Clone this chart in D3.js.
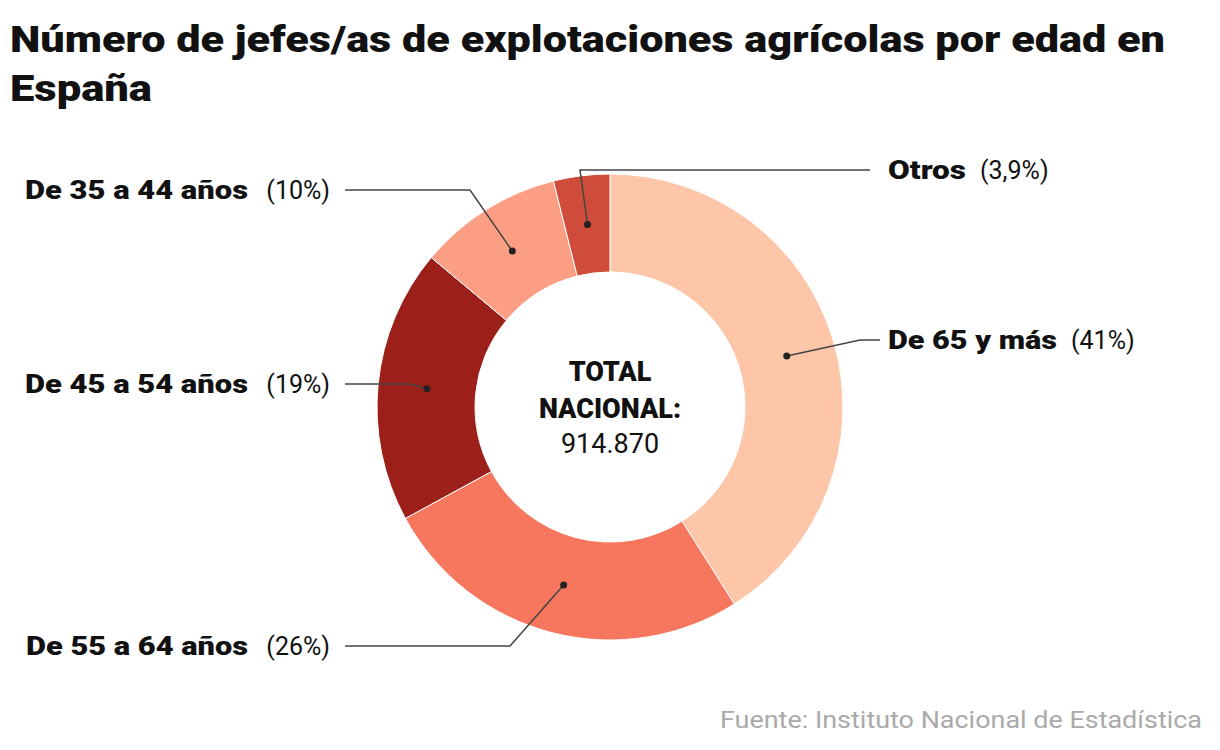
<!DOCTYPE html>
<html><head><meta charset="utf-8">
<script src="https://cdn.jsdelivr.net/npm/d3@7"></script>
<style>body{margin:0;background:#fff;font-family:Roboto,"Noto Sans",sans-serif}</style>
</head><body><svg id="c" width="1220" height="750"></svg>
<script>
const categories=["De 65 y más","De 55 a 64 años","De 45 a 54 años","De 35 a 44 años","Otros"];
const values=[41,26,19,10,3.9];
const pctLabels=["(41%)","(26%)","(19%)","(10%)","(3,9%)"];
const colors=["#fdc6a9","#f7775e","#9c1f1a","#fc9e83","#cf4c3b"];
// layout: [labelX, labelY, side, elbowX, elbowY, lineEndX, boldWidth]
const layout=[[888,340,"r",860,340,880,169],[330,646,"l",510,646,345,222],[330,384,"l",410,384,345,223],[330,190,"l",470,190,345,223],[888,170,"r",580,170,870,78]];
const svg=d3.select("#c");
svg.append("text").attr("x",10).attr("y",52).attr("font-size",37).attr("font-weight",900).attr("fill","#111").attr("textLength",1155).attr("lengthAdjust","spacingAndGlyphs").text("Número de jefes/as de explotaciones agrícolas por edad en");
svg.append("text").attr("x",10).attr("y",101).attr("font-size",37).attr("font-weight",900).attr("fill","#111").attr("textLength",142).attr("lengthAdjust","spacingAndGlyphs").text("España");
const cx=610,cy=407,R=233,r=135;
const g=svg.append("g").attr("transform",`translate(${cx},${cy})`);
const pie=d3.pie().sort(null).value(d=>d)(values);
const arc=d3.arc().innerRadius(r).outerRadius(R);
g.selectAll("path").data(pie).join("path").attr("d",arc).attr("fill",(d,i)=>colors[i]).attr("stroke","#fff").attr("stroke-width",1);
const mid=d3.arc().innerRadius(184).outerRadius(184);
pie.forEach((d,i)=>{
  const [px,py]=mid.centroid(d);const L=layout[i];
  const x=cx+px,y=cy+py;
  svg.append("polyline").attr("points",`${x},${y} ${L[3]},${L[4]} ${L[5]},${L[4]}`).attr("fill","none").attr("stroke","#444").attr("stroke-width",1.5);
  svg.append("circle").attr("cx",x).attr("cy",y).attr("r",3.5).attr("fill","#222");
  const ty=L[1]+9;
  let bx,px2;
  if(L[2]==="l"){px2=L[0];bx=L[0]-68-14-L[6];}
  else{bx=L[0];px2=L[0]+L[6]+14;}
  svg.append("text").attr("x",bx).attr("y",ty).attr("font-size",25).attr("font-weight",900).attr("fill","#111").attr("textLength",L[6]).attr("lengthAdjust","spacingAndGlyphs").text(categories[i]);
  svg.append("text").attr("x",px2).attr("y",ty).attr("text-anchor",L[2]==="l"?"end":"start").attr("font-size",25).attr("fill","#111").text(pctLabels[i]);
});
svg.append("text").attr("x",cx).attr("y",381).attr("text-anchor","middle").attr("font-size",27).attr("font-weight",900).attr("fill","#111").text("TOTAL");
svg.append("text").attr("x",cx).attr("y",418).attr("text-anchor","middle").attr("font-size",27).attr("font-weight",900).attr("fill","#111").text("NACIONAL:");
svg.append("text").attr("x",cx).attr("y",453).attr("text-anchor","middle").attr("font-size",27).attr("fill","#111").text("914.870");
svg.append("text").attr("x",1202).attr("y",728).attr("text-anchor","end").attr("font-size",23).attr("fill","#aaa").attr("textLength",482).attr("lengthAdjust","spacingAndGlyphs").text("Fuente: Instituto Nacional de Estadística");
</script></body></html>
